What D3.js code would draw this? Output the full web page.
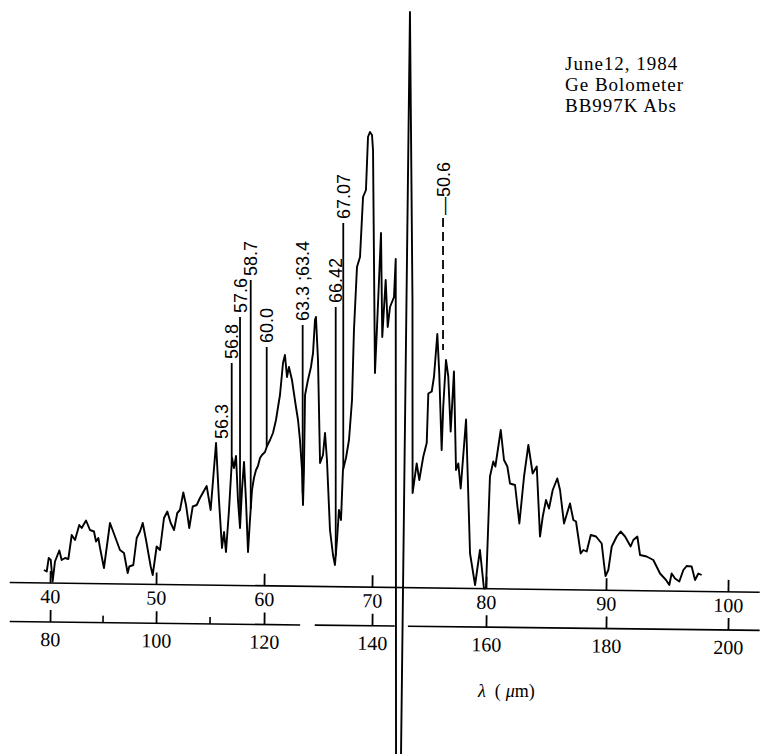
<!DOCTYPE html>
<html>
<head>
<meta charset="utf-8">
<script src="https://cdn.jsdelivr.net/npm/d3@7"></script>
<style>
  body { margin: 0; background: #fff; }
  svg { display: block; }
</style>
</head>
<body>
<svg id="chart" width="760" height="754"></svg>
<script>
// Scan position on the upper scale and detector signal (arbitrary units)
const wavelength = [
  39.43, 39.69, 39.88, 40.07, 40.25, 40.47, 40.88, 41.10, 41.42, 41.73,
  42.05, 42.36, 42.76, 42.99, 43.40, 43.77, 44.15, 44.34, 44.56, 44.72,
  45.09, 45.66, 46.13, 46.60, 46.98, 47.33, 47.48, 47.86, 48.18, 48.49,
  48.75, 49.06, 49.50, 49.69, 50.06, 50.37, 50.74, 51.05, 51.36, 51.67,
  51.97, 52.22, 52.53, 52.78, 53.08, 53.40, 53.77, 54.07, 54.69, 55.06,
  55.56, 55.83, 56.11, 56.30, 56.48, 56.76, 57.04, 57.22, 57.41, 57.59,
  57.78, 57.96, 58.15, 58.33, 58.52, 58.70, 58.89, 59.07, 59.26, 59.44,
  59.63, 59.81, 60.09, 60.28, 60.56, 60.83, 61.11, 61.30, 61.48, 61.76,
  61.94, 62.13, 62.31, 62.59, 62.96, 63.15, 63.33, 63.52, 63.61, 63.70,
  63.80, 64.07, 64.35, 64.54, 64.72, 64.81, 65.00, 65.19, 65.46, 65.65,
  65.83, 66.11, 66.39, 66.57, 66.76, 66.94, 67.13, 67.31, 67.59, 67.87,
  68.15, 68.33, 68.61, 68.89, 69.17, 69.44, 69.63, 69.81, 70.00, 70.09,
  70.26, 70.44, 70.79, 70.90, 71.20, 71.38, 71.58, 71.93, 72.08, 72.11,
  72.54, 73.33, 73.55, 73.56,
  73.92, 74.15, 74.50, 74.80, 74.94, 75.24, 75.44, 75.73, 75.90, 76.11,
  76.25, 76.49, 76.69, 76.90, 77.19, 77.37, 77.57, 77.78, 78.25, 78.60,
  79.04, 79.47, 79.82, 80.00, 80.33, 80.61, 80.78, 81.23, 81.50, 81.78,
  82.00, 82.42, 82.78, 83.17, 83.53, 83.89, 84.23, 84.50, 84.73, 85.00,
  85.25, 85.56, 85.94, 86.17, 86.50, 87.00, 87.28, 87.50, 87.89, 88.11,
  88.39, 88.73, 89.17, 89.64, 89.83, 89.96, 90.19, 90.47, 90.88, 91.20,
  91.56, 92.02, 92.24, 92.57, 92.79, 93.33, 93.88, 94.43, 94.92, 95.19,
  95.38, 95.66, 96.01, 96.34, 96.61, 97.02, 97.30, 97.57, 97.84
];
const signal = [
  3.0, 2.7, 5.4, 5.0, 0.7, 4.7, 6.9, 5.0, 5.4, 5.2,
  10.0, 9.0, 12.0, 11.4, 12.9, 11.0, 10.7, 8.7, 9.4, 7.4,
  3.4, 12.4, 9.7, 7.0, 6.4, 2.4, 3.7, 4.0, 9.4, 10.7,
  12.4, 9.0, 3.7, 2.0, 7.7, 7.0, 13.4, 14.7, 12.4, 11.0,
  14.4, 15.0, 18.5, 16.0, 11.4, 15.7, 16.0, 17.4, 19.8, 15.0,
  28.4, 17.0, 7.4, 10.6, 6.6, 15.0, 25.4, 23.4, 25.8, 17.0,
  11.4, 19.0, 24.6, 17.0, 6.6, 13.0, 19.0, 21.4, 23.0, 23.8,
  25.4, 26.0, 26.6, 27.8, 29.0, 30.4, 33.0, 35.6, 38.0, 44.4,
  46.0, 41.6, 43.6, 41.0, 35.6, 33.0, 29.0, 23.0, 16.0, 23.0,
  38.0, 41.0, 43.6, 46.4, 53.0, 53.6, 45.0, 24.4, 26.0, 30.4,
  25.0, 11.0, 6.0, 4.0, 9.0, 15.0, 13.0, 23.0, 25.4, 29.0,
  37.0, 51.0, 63.6, 65.6, 77.6, 79.0, 89.6, 90.6, 90.0, 87.0,
  42.4, 51.6, 70.4, 49.6, 61.0, 51.6, 55.6, 57.6, 65.2, -35.0,
  -35.0, 114.6, 57.0, 18.4,
  24.3, 21.0, 25.7, 28.4, 38.3, 38.7, 41.7, 50.2, 42.3, 27.0,
  35.7, 45.0, 41.7, 30.7, 42.7, 23.0, 24.3, 19.3, 33.1, 6.3,
  0.0, 7.0, -0.7, -0.6, 21.7, 24.7, 23.7, 31.0, 25.0, 23.7,
  20.3, 20.0, 12.3, 21.7, 28.0, 22.3, 23.7, 9.7, 13.7, 17.0,
  15.3, 19.0, 21.3, 19.0, 12.3, 16.3, 13.0, 12.7, 6.3, 7.0,
  6.7, 10.0, 9.7, 8.3, 4.3, 1.8, 3.0, 7.7, 9.7, 10.7,
  9.7, 7.7, 9.0, 9.7, 6.0, 5.7, 5.0, 2.3, 1.0, 0.0,
  2.3, 1.3, 0.7, 3.0, 3.8, 3.7, 1.0, 2.3, 2.0
];

// Axis ticks: upper scale and the doubled lower scale
const upperTicks = [40, 50, 60, 70, 80, 90, 100];
const lowerTicks = [80, 100, 120, 140, 160, 180, 200];
const lowerMinorTicks = [90, 110];
const upperSpan = [36.2, 102.6];
const lowerSpans = [[72.4, 126.7], [129.4, 144.0], [146.3, 205.2]];

// Identified absorption lines: label, position on the upper scale, top of the leader
const lineLabels = ["56.3", "56.8", "57.6", "58.7", "60.0", "63.3 ;63.4", "66.42", "67.07"];
const linePositions = [55.56, 57.01, 57.78, 58.77, 60.25, 63.58, 66.64, 67.34];
const lineTops = [28.4, 44.4, 53.6, 61.0, 47.6, 52.0, 55.6, 72.4];

// Second-order line marked with a dashed leader
const dashedLabel = "\u201450.6";
const dashedPosition = 76.23;
const dashedRange = [73.4, 47.0];

const legendLines = ["June12, 1984", "Ge Bolometer", "BB997K Abs"];

// ---------------------------------------------------------------------------
const svg = d3.select("#chart");
const serif = "'Liberation Serif', 'DejaVu Serif', serif";
const sans = "'Liberation Sans', Arial, sans-serif";

const x = d3.scaleLinear()
  .domain(upperTicks)
  .range([50, 156, 264, 372, 486, 606, 728]);
const xLower = d3.scaleLinear()
  .domain(upperTicks.map(d => d * 2))
  .range(x.range());
const y = d3.scaleLinear().domain([0, 115]).range([585, 10]);

const points = wavelength.map((w, i) => [w, signal[i]]);

// curve value at a given position (used to end leader lines on the trace)
function signalAt(p) {
  for (let i = 0; i < points.length - 1; i++) {
    const a = points[i], b = points[i + 1];
    if (a[0] <= p && p <= b[0]) {
      const t = (p - a[0]) / (b[0] - a[0] || 1);
      return a[1] + t * (b[1] - a[1]);
    }
  }
  return 0;
}

// --- axes -------------------------------------------------------------------
const upperAxisY = 583, lowerAxisY = 622, tilt = 0.75;

const upperG = svg.append("g")
  .attr("transform", `translate(0,${upperAxisY}) rotate(${tilt},${x(40)},0)`);
upperG.call(d3.axisBottom(x).tickValues(upperTicks).tickSizeInner(-12)
  .tickSizeOuter(0).tickPadding(6).tickFormat(d3.format("d")));
upperG.select(".domain").remove();
upperG.append("line")
  .attr("x1", x(upperSpan[0])).attr("x2", x(upperSpan[1]))
  .attr("stroke", "#000").attr("stroke-width", 1.6);

const lowerG = svg.append("g")
  .attr("transform", `translate(0,${lowerAxisY}) rotate(${tilt * 0.9},${x(40)},0)`);
lowerG.call(d3.axisBottom(xLower).tickValues(lowerTicks).tickSizeInner(-12)
  .tickSizeOuter(0).tickPadding(10).tickFormat(d3.format("d")));
lowerG.select(".domain").remove();
lowerG.selectAll(".minor").data(lowerMinorTicks).join("line")
  .attr("class", "minor")
  .attr("x1", d => xLower(d)).attr("x2", d => xLower(d))
  .attr("y1", 0).attr("y2", -7)
  .attr("stroke", "#000").attr("stroke-width", 1.6);
lowerG.selectAll(".span").data(lowerSpans).join("line")
  .attr("class", "span")
  .attr("x1", d => xLower(d[0])).attr("x2", d => xLower(d[1]))
  .attr("stroke", "#000").attr("stroke-width", 1.6);

[upperG, lowerG].forEach(g => {
  g.selectAll(".tick line").attr("stroke", "#000").attr("stroke-width", 1.8);
  g.selectAll(".tick text")
    .attr("fill", "#000")
    .style("font-family", serif)
    .style("font-size", "20px");
});

// axis title
const title = svg.append("text")
  .attr("x", 478).attr("y", 697)
  .style("font-family", serif).style("font-size", "18px").attr("fill", "#000");
title.append("tspan").style("font-style", "italic").text("\u03bb");
title.append("tspan").attr("dx", 9).text("(");
title.append("tspan").attr("dx", 5).style("font-style", "italic").text("\u03bc");
title.append("tspan").text("m)");

// --- spectrum trace ----------------------------------------------------------
svg.append("path")
  .datum(points)
  .attr("d", d3.line().x(d => x(d[0])).y(d => y(d[1])))
  .attr("fill", "none")
  .attr("stroke", "#000")
  .attr("stroke-width", 1.9)
  .attr("stroke-linejoin", "round");

// --- line identifications ----------------------------------------------------
const ids = lineLabels.map((t, i) => ({ t, p: linePositions[i], top: lineTops[i] }));

svg.selectAll(".leader").data(ids).join("line")
  .attr("class", "leader")
  .attr("x1", d => x(d.p)).attr("x2", d => x(d.p))
  .attr("y1", d => y(d.top)).attr("y2", d => y(signalAt(d.p)))
  .attr("stroke", "#000").attr("stroke-width", 1.8);

svg.selectAll(".idlabel").data(ids).join("text")
  .attr("class", "idlabel")
  .attr("transform", d => `translate(${x(d.p) + (d.t === "56.3" ? 5 : 0)},${y(d.top) - 4}) rotate(-90)`)
  .attr("dy", "0.36em")
  .style("font-family", sans).style("font-size", "18px")
  .attr("fill", "#000")
  .text(d => d.t);

svg.append("line")
  .attr("x1", x(dashedPosition)).attr("x2", x(dashedPosition))
  .attr("y1", y(dashedRange[0])).attr("y2", y(dashedRange[1]))
  .attr("stroke", "#000").attr("stroke-width", 1.8)
  .attr("stroke-dasharray", "9,5");
svg.append("text")
  .attr("transform", `translate(${x(dashedPosition)},${y(dashedRange[0]) - 3}) rotate(-90)`)
  .attr("dy", "0.36em")
  .style("font-family", sans).style("font-size", "18px")
  .attr("fill", "#000")
  .text(dashedLabel);

// --- run notes ---------------------------------------------------------------
svg.append("g").selectAll("text").data(legendLines).join("text")
  .attr("x", 565)
  .attr("y", (d, i) => 70 + i * 21)
  .style("font-family", serif).style("font-size", "19px")
  .style("letter-spacing", "1px")
  .attr("fill", "#000")
  .text(d => d);
</script>
</body>
</html>
